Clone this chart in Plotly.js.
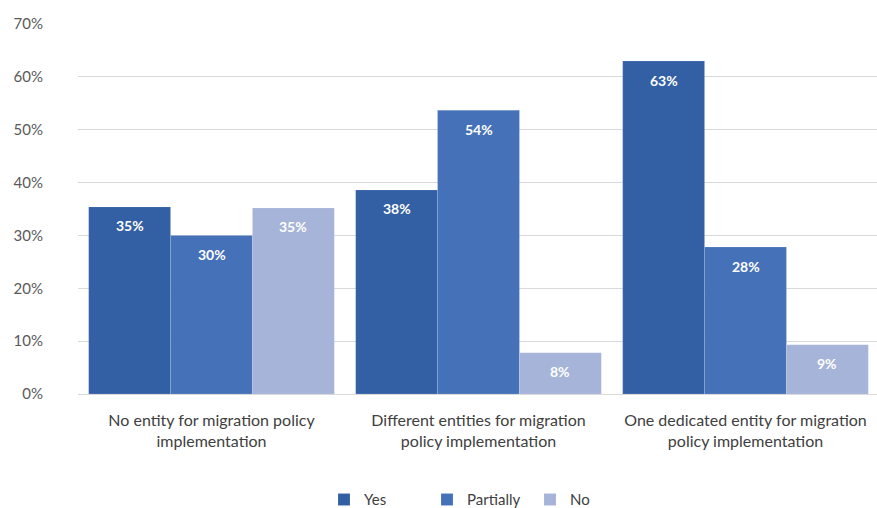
<!DOCTYPE html>
<html>
<head>
<meta charset="utf-8">
<script src="https://cdn.plot.ly/plotly-3.0.1.min.js"></script>
<style>html,body{margin:0;padding:0;overflow:hidden;background:#fff;}</style>
</head>
<body>
<div id="chart"></div>
<script>
const categories = [
  "No entity for migration policy<br>implementation",
  "Different entities for migration<br>policy implementation",
  "One dedicated entity for migration<br>policy implementation"
];
const seriesNames = ["Yes", "Partially", "No"];
const yesValues = [35.4, 38.6, 63.0];
const partiallyValues = [30.0, 53.7, 27.8];
const noValues = [35.2, 7.8, 9.3];
const yesLabels = ["35%", "38%", "63%"];
const partiallyLabels = ["30%", "54%", "28%"];
const noLabels = ["35%", "8%", "9%"];
const yTickVals = [0, 10, 20, 30, 40, 50, 60, 70];
const yTickText = ["0%", "10%", "20%", "30%", "40%", "50%", "60%", "70%"];

const colors = ["#335fa5", "#4571b8", "#a6b4d9"];
const values = [yesValues, partiallyValues, noValues];
const labels = [yesLabels, partiallyLabels, noLabels];
const font = "Lato, 'Open Sans', sans-serif";
const bargap = 0.08;
const barW = (1 - bargap) / seriesNames.length;

const traces = seriesNames.map((n, i) => ({
  type: "bar",
  name: n,
  x: categories,
  y: values[i],
  marker: {color: colors[i], line: {color: "rgba(255,255,255,0.25)", width: 0.5}},
  hoverinfo: "skip"
}));

// value labels placed just under each bar's top, via the axes' own scales
const annotations = [];
seriesNames.forEach((n, i) => {
  values[i].forEach((v, j) => {
    annotations.push({
      x: j + (i - 1) * barW,
      y: v,
      xref: "x", yref: "y",
      text: labels[i][j],
      showarrow: false,
      yanchor: "middle",
      yshift: -19,
      font: {family: font, size: 14, color: "#ffffff", weight: "bold"}
    });
  });
});

const layout = {
  width: 880,
  height: 508,
  margin: {l: 78, r: 1, t: 24, b: 114},
  paper_bgcolor: "#ffffff",
  plot_bgcolor: "#ffffff",
  font: {family: font, size: 15, color: "#404040"},
  barmode: "group",
  bargap: bargap,
  bargroupgap: 0,
  showlegend: true,
  annotations: annotations,
  legend: {
    orientation: "h",
    x: 0.5, xanchor: "center",
    xref: "paper",
    yref: "container",
    y: 0.016, yanchor: "middle",
    entrywidth: 58,
    entrywidthmode: "pixels",
    font: {family: font, size: 15, color: "#404040"},
    traceorder: "normal"
  },
  xaxis: {
    type: "category",
    showgrid: false,
    showline: true,
    linecolor: "#d9d9d9",
    linewidth: 1,
    ticks: "",
    ticklabelstandoff: 12,
    tickfont: {family: font, size: 16, color: "#404040"}
  },
  yaxis: {
    range: [0, 70],
    tickvals: yTickVals,
    ticktext: yTickText,
    showgrid: true,
    gridcolor: "#d9d9d9",
    gridwidth: 1,
    zeroline: false,
    showline: false,
    ticks: "",
    ticklabelstandoff: 34,
    tickfont: {family: font, size: 15, color: "#595959"}
  }
};

Plotly.newPlot("chart", traces, layout, {displayModeBar: false, staticPlot: true});
</script>
</body>
</html>
